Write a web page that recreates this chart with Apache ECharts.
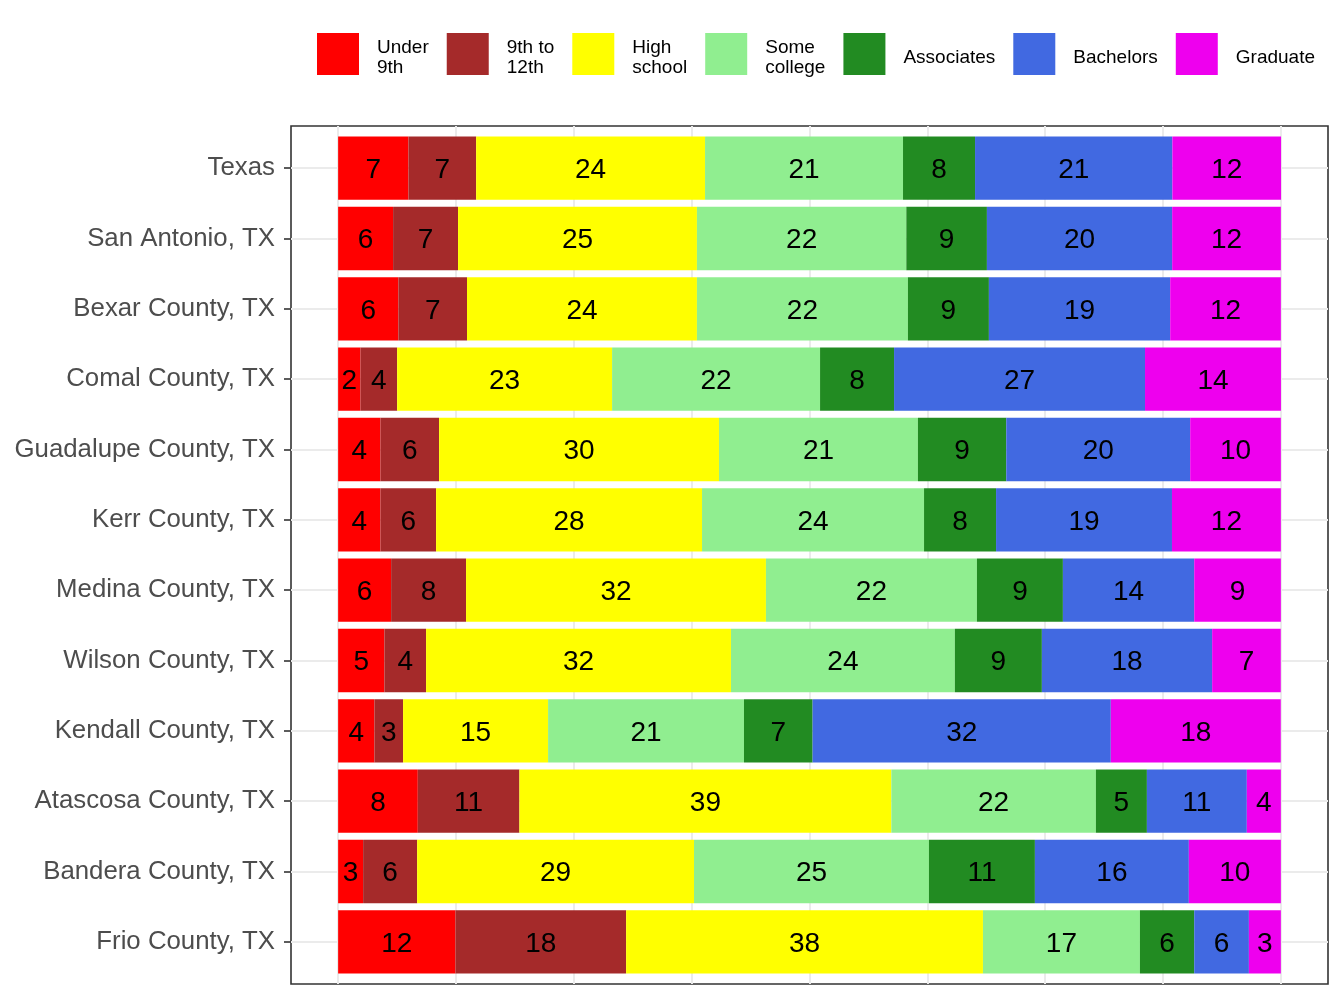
<!DOCTYPE html>
<html>
<head>
<meta charset="utf-8">
<title>Educational attainment</title>
<script src="https://cdn.jsdelivr.net/npm/echarts@6/dist/echarts.min.js"></script>
<style>
  html, body { margin: 0; padding: 0; background: #fff; }
  #main { width: 1344px; height: 1008px; }
</style>
</head>
<body>
<div id="main"></div>
<script>
// rows, top to bottom
const categories = ['Texas', 'San Antonio, TX', 'Bexar County, TX', 'Comal County, TX',
  'Guadalupe County, TX', 'Kerr County, TX', 'Medina County, TX', 'Wilson County, TX',
  'Kendall County, TX', 'Atascosa County, TX', 'Bandera County, TX', 'Frio County, TX'];

const levels = ['Under 9th', '9th to 12th', 'High school', 'Some college', 'Associates', 'Bachelors', 'Graduate'];
const legendLabels = ['Under\n9th', '9th to\n12th', 'High\nschool', 'Some\ncollege', 'Associates', 'Bachelors', 'Graduate'];
const colors = ['#FF0000', '#A52A2A', '#FFFF00', '#90EE90', '#228B22', '#4169E1', '#EE00EE'];

// percent of adults by highest level
const under9th    = [7.46, 5.83, 6.39, 2.37, 4.49, 4.49, 5.62, 4.91, 3.85, 8.45, 2.65, 12.45];
const grade9to12  = [7.18, 6.89, 7.28, 3.89, 6.22, 5.90, 7.95, 4.42, 3.04, 10.78, 5.73, 18.10];
const highSchool  = [24.28, 25.34, 24.39, 22.80, 29.69, 28.21, 31.81, 32.34, 15.38, 39.45, 29.37, 37.85];
const someCollege = [21.00, 22.21, 22.38, 22.06, 21.10, 23.55, 22.38, 23.75, 20.78, 21.70, 24.92, 16.65];
const associates  = [7.64, 8.55, 8.59, 7.85, 9.37, 7.64, 9.12, 9.23, 7.28, 5.41, 11.24, 5.76];
const bachelors   = [20.93, 19.65, 19.23, 26.62, 19.51, 18.66, 13.93, 18.06, 31.63, 10.60, 16.33, 5.80];
const graduate    = [11.53, 11.53, 11.74, 14.42, 9.62, 11.55, 9.19, 7.28, 18.03, 3.61, 9.76, 3.39];

const gridBreaks = [0, 12.5, 25, 37.5, 50, 62.5, 75, 87.5, 100];

const seriesData = [under9th, grade9to12, highSchool, someCollege, associates, bachelors, graduate];
const font = 'Liberation Sans, Arial, sans-serif';

var myChart = echarts.init(document.getElementById('main'));

var barSeries = levels.map(function (name, i) {
  return {
    name: name,
    type: 'bar',
    stack: 'total',
    barWidth: '90%',
    xAxisIndex: 0,
    yAxisIndex: 0,
    z: 3,
    itemStyle: { color: colors[i] },
    label: {
      show: true,
      position: 'inside',
      offset: [0, 2],
      color: '#000',
      fontSize: 28,
      fontFamily: font,
      formatter: function (p) { return Math.round(p.value); }
    },
    emphasis: { disabled: true },
    data: seriesData[i]
  };
});

// panel grid lines, kept under the bars
var gridLine = { color: '#EBEBEB', width: 2, type: 'solid' };
var gridSeries = [{
  type: 'line',
  xAxisIndex: 1,
  yAxisIndex: 1,
  data: [],
  silent: true,
  z: 0,
  markLine: {
    silent: true,
    z: 0,
    symbol: 'none',
    label: { show: false },
    lineStyle: gridLine,
    data: gridBreaks.map(function (v) { return { xAxis: v }; })
  }
}, {
  type: 'line',
  xAxisIndex: 0,
  yAxisIndex: 0,
  data: [],
  silent: true,
  z: 0,
  markLine: {
    silent: true,
    z: 0,
    symbol: 'none',
    label: { show: false },
    lineStyle: gridLine,
    data: categories.map(function (c) { return { yAxis: c }; })
  }
}];

myChart.setOption({
  animation: false,
  color: colors,
  legend: {
    data: levels,
    left: 317,
    top: 30,
    padding: 0,
    icon: 'rect',
    itemWidth: 42,
    itemHeight: 42,
    itemGap: 18,
    selectedMode: false,
    // a thin empty first line nudges the text a little below the key centre
    formatter: function (name) { return '{s|}\n' + legendLabels[levels.indexOf(name)]; },
    textStyle: {
      fontFamily: font,
      fontSize: 19,
      lineHeight: 20,
      color: '#000',
      padding: [0, 0, 0, 13],
      rich: {
        s: { height: 8, lineHeight: 8, fontSize: 1 }
      }
    }
  },
  grid: [
    { left: 291, right: 16, top: 133, bottom: 31, containLabel: false },
    { left: 291, right: 16, top: 126, bottom: 24, show: true,
      borderColor: '#333333', borderWidth: 1.6, backgroundColor: 'transparent', z: 0 }
  ],
  xAxis: [
    { type: 'value', gridIndex: 0, min: -5, max: 105, show: false },
    { type: 'value', gridIndex: 1, min: -5, max: 105, show: false }
  ],
  yAxis: [
    {
      type: 'category',
      gridIndex: 0,
      position: 'left',
      data: categories,
      inverse: true,
      axisLine: { show: false, onZero: false },
      axisTick: { show: true, alignWithLabel: true, length: 7, lineStyle: { color: '#333333', width: 1.6 } },
      axisLabel: { margin: 16, color: '#4D4D4D', fontSize: 25.8, fontFamily: font, padding: [4, 0, 0, 0] },
      splitLine: { show: false }
    },
    { type: 'value', gridIndex: 1, min: 0, max: 1, show: false }
  ],
  series: gridSeries.concat(barSeries)
});
</script>
</body>
</html>
